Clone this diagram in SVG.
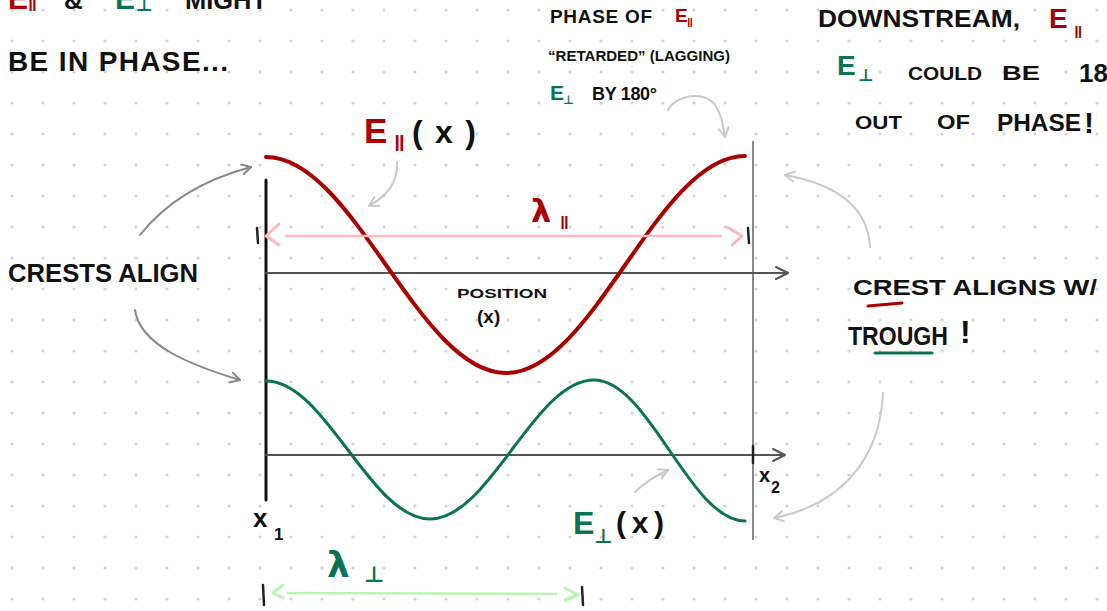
<svg xmlns="http://www.w3.org/2000/svg" width="1107" height="611" viewBox="0 0 1107 611">
<defs>
<pattern id="dots" x="12" y="10" width="31" height="31" patternUnits="userSpaceOnUse">
<circle cx="0" cy="0" r="1.6" fill="#d2d2d2"/>
<circle cx="31" cy="0" r="1.6" fill="#d2d2d2"/>
<circle cx="0" cy="31" r="1.6" fill="#d2d2d2"/>
<circle cx="31" cy="31" r="1.6" fill="#d2d2d2"/>
</pattern>
<marker id="mDark" viewBox="0 0 12 12" refX="10" refY="6" markerWidth="12" markerHeight="12" markerUnits="userSpaceOnUse" orient="auto">
<path d="M1,1 L10,6 L1,11" fill="none" stroke="#888" stroke-width="2" stroke-linecap="round" stroke-linejoin="round"/>
</marker>
<marker id="mLight" viewBox="0 0 12 12" refX="10" refY="6" markerWidth="12" markerHeight="12" markerUnits="userSpaceOnUse" orient="auto">
<path d="M1,1 L10,6 L1,11" fill="none" stroke="#c8c8c8" stroke-width="2" stroke-linecap="round" stroke-linejoin="round"/>
</marker>
</defs>
<style>
text { font-family: "Liberation Sans", "DejaVu Sans", sans-serif; font-weight: bold; }
.k { fill: #111; }
.r { fill: #a80000; }
.g { fill: #0a7352; }
.sym { font-family: "DejaVu Sans", sans-serif; }
.axis { stroke: #555; stroke-width: 2; fill: none; stroke-linecap: round; }
.head { stroke: #555; stroke-width: 2; fill: none; stroke-linecap: round; stroke-linejoin: round; }
.tick { stroke: #222; stroke-width: 2.5; stroke-linecap: round; }
.darkarrow { stroke: #888; stroke-width: 2; fill: none; stroke-linecap: round; }
.lightarrow { stroke: #c8c8c8; stroke-width: 2; fill: none; stroke-linecap: round; }
</style>
<rect width="1107" height="611" fill="#ffffff"/>
<rect width="1107" height="611" fill="url(#dots)"/>

<g id="axes">
<line x1="266" y1="180" x2="266" y2="500" stroke="#111" stroke-width="3" stroke-linecap="round"/>
<line x1="753" y1="141" x2="753" y2="540" stroke="#888" stroke-width="2"/>
<line class="axis" x1="266" y1="273" x2="787" y2="273"/>
<path class="head" d="M776,267 L788,273 L776,279"/>
<line class="axis" x1="266" y1="455" x2="784" y2="455"/>
<path class="head" d="M773,449 L785,455 L773,461"/>
<line class="tick" x1="753" y1="446" x2="753" y2="463"/>
</g>

<g id="curve-parallel">
<path d="M266,157 C353.6,157 418.4,373 506,373 C593.6,373 657.4,156 745,156" fill="none" stroke="#a80000" stroke-width="4" stroke-linecap="round"/>
</g>
<g id="curve-perp">
<path d="M266,381 C326,381 370,519 430,519 C490,519 534,380 594,380 C649,380 690,521 745,521" fill="none" stroke="#0a7352" stroke-width="3" stroke-linecap="round"/>
</g>

<g id="lambda-parallel">
<line x1="285" y1="236" x2="722" y2="236" stroke="#ffb8b8" stroke-width="2.5"/>
<path d="M279,224 L266,236 L279,245" fill="none" stroke="#ffb8b8" stroke-width="3" stroke-linecap="round" stroke-linejoin="round"/>
<path d="M727,227 L742,236 L732,245" fill="none" stroke="#ffb8b8" stroke-width="3" stroke-linecap="round" stroke-linejoin="round"/>
<line class="tick" x1="257" y1="228" x2="258" y2="243" stroke="#555"/>
<line class="tick" x1="748" y1="228" x2="749" y2="243"/>
<text class="r sym" x="531" y="222" font-size="32">λ</text>
<text class="r" x="560" y="229" font-size="18">ǁ</text>
</g>

<g id="lambda-perp">
<line x1="287" y1="593" x2="557" y2="594" stroke="#b8f5b0" stroke-width="2.5"/>
<path d="M283,585 L273,593 L283,598" fill="none" stroke="#b8f5b0" stroke-width="3" stroke-linecap="round" stroke-linejoin="round"/>
<path d="M565,588 L578,595 L565,600" fill="none" stroke="#b8f5b0" stroke-width="3" stroke-linecap="round" stroke-linejoin="round"/>
<line class="tick" x1="263" y1="585" x2="264" y2="605" stroke="#444"/>
<line class="tick" x1="582" y1="587" x2="583" y2="605" stroke="#444"/>
<text class="g sym" x="327" y="577" font-size="36">λ</text>
<text class="g sym" x="364" y="582" font-size="22">⊥</text>
</g>

<g id="x-labels">
<text class="k" x="253" y="527" font-size="26">x</text>
<text class="k" x="274" y="540" font-size="17">1</text>
<text class="k" x="759" y="482" font-size="20">x</text>
<text class="k" x="771" y="493" font-size="16">2</text>
<text class="k" x="457" y="298" font-size="13" textLength="90" lengthAdjust="spacingAndGlyphs">POSITION</text>
<text class="k" x="477" y="323" font-size="19">(x)</text>
</g>

<g id="label-E-parallel">
<text class="r" x="364" y="143" font-size="35">E</text>
<text class="r" x="394" y="151" font-size="22">ǁ</text>
<text class="k" x="412" y="143" font-size="32" textLength="64" lengthAdjust="spacing">( x )</text>
</g>

<g id="label-E-perp">
<text class="g" x="573" y="534" font-size="32">E</text>
<text class="g sym" x="594" y="543" font-size="20">⊥</text>
<text class="k" x="616" y="533" font-size="30" textLength="48" lengthAdjust="spacing">(x)</text>
</g>

<g id="note-top-left">
<text class="r" x="8" y="9" font-size="30">E</text>
<text class="r" x="28" y="11" font-size="18">ǁ</text>
<text class="k" x="64" y="9" font-size="26">&amp;</text>
<text class="g" x="115" y="9" font-size="30">E</text>
<text class="g sym" x="136" y="11" font-size="18">⊥</text>
<text class="k" x="185" y="9" font-size="26" textLength="82" lengthAdjust="spacingAndGlyphs">MIGHT</text>
<text class="k" x="8" y="71" font-size="28" textLength="220" lengthAdjust="spacing">BE IN PHASE...</text>
</g>

<g id="note-crests-align">
<text class="k" x="8" y="282" font-size="25" textLength="190" lengthAdjust="spacingAndGlyphs">CRESTS ALIGN</text>
</g>

<g id="note-phase">
<text class="k" x="550" y="23" font-size="19" textLength="102" lengthAdjust="spacing">PHASE OF</text>
<text class="r" x="675" y="22" font-size="19">E</text>
<text class="r" x="687" y="27" font-size="12">ǁ</text>
<text class="k" x="548" y="61" font-size="14" textLength="182" lengthAdjust="spacingAndGlyphs">“RETARDED” (LAGGING)</text>
<text class="g" x="550" y="100" font-size="21">E</text>
<text class="g sym" x="563" y="104" font-size="12">⊥</text>
<text class="k" x="592" y="100" font-size="18" textLength="65" lengthAdjust="spacing">BY 180°</text>
</g>

<g id="note-downstream">
<text class="k" x="818" y="27" font-size="24" textLength="202" lengthAdjust="spacingAndGlyphs">DOWNSTREAM,</text>
<text class="r" x="1049" y="28" font-size="28">E</text>
<text class="r" x="1074" y="38" font-size="17">ǁ</text>
<text class="g" x="837" y="75" font-size="28">E</text>
<text class="g sym" x="858" y="81" font-size="17">⊥</text>
<text class="k" x="908" y="80" font-size="18" textLength="74" lengthAdjust="spacingAndGlyphs">COULD</text>
<text class="k" x="1002" y="80" font-size="21" textLength="38" lengthAdjust="spacingAndGlyphs">BE</text>
<text class="k" x="1079" y="82" font-size="26">180</text>
<text class="k" x="855" y="129" font-size="18" textLength="47" lengthAdjust="spacingAndGlyphs">OUT</text>
<text class="k" x="937" y="129" font-size="20" textLength="33" lengthAdjust="spacingAndGlyphs">OF</text>
<text class="k" x="997" y="131" font-size="24" textLength="84" lengthAdjust="spacingAndGlyphs">PHASE</text>
<text class="k" x="1084" y="133" font-size="30">!</text>
</g>

<g id="note-crest-trough">
<text class="k" x="853" y="295" font-size="22" textLength="244" lengthAdjust="spacingAndGlyphs">CREST ALIGNS W/</text>
<line x1="868" y1="306" x2="902" y2="303" stroke="#a80000" stroke-width="3" stroke-linecap="round"/>
<text class="k" x="848" y="345" font-size="26" textLength="100" lengthAdjust="spacingAndGlyphs">TROUGH</text>
<text class="k" x="960" y="343" font-size="32">!</text>
<line x1="875" y1="353" x2="932" y2="353" stroke="#0a7352" stroke-width="3" stroke-linecap="round"/>
</g>

<g id="connectors">
<path class="darkarrow" d="M140,235 C170,197 210,178 251,167" marker-end="url(#mDark)"/>
<path class="darkarrow" d="M135,310 C140,345 190,365 240,380" marker-end="url(#mDark)"/>
<path class="lightarrow" d="M397,162 C398,182 388,195 369,206" marker-end="url(#mLight)"/>
<path class="lightarrow" d="M635,492 C645,482 655,476 668,470" marker-end="url(#mLight)"/>
<path class="lightarrow" d="M668,110 C675,95 705,90 715,105 C722,115 723,125 725,137" marker-end="url(#mLight)"/>
<path class="lightarrow" d="M870,247 C868,210 840,185 785,175" marker-end="url(#mLight)"/>
<path class="lightarrow" d="M883,393 C880,460 840,505 774,518" marker-end="url(#mLight)"/>
</g>
</svg>
